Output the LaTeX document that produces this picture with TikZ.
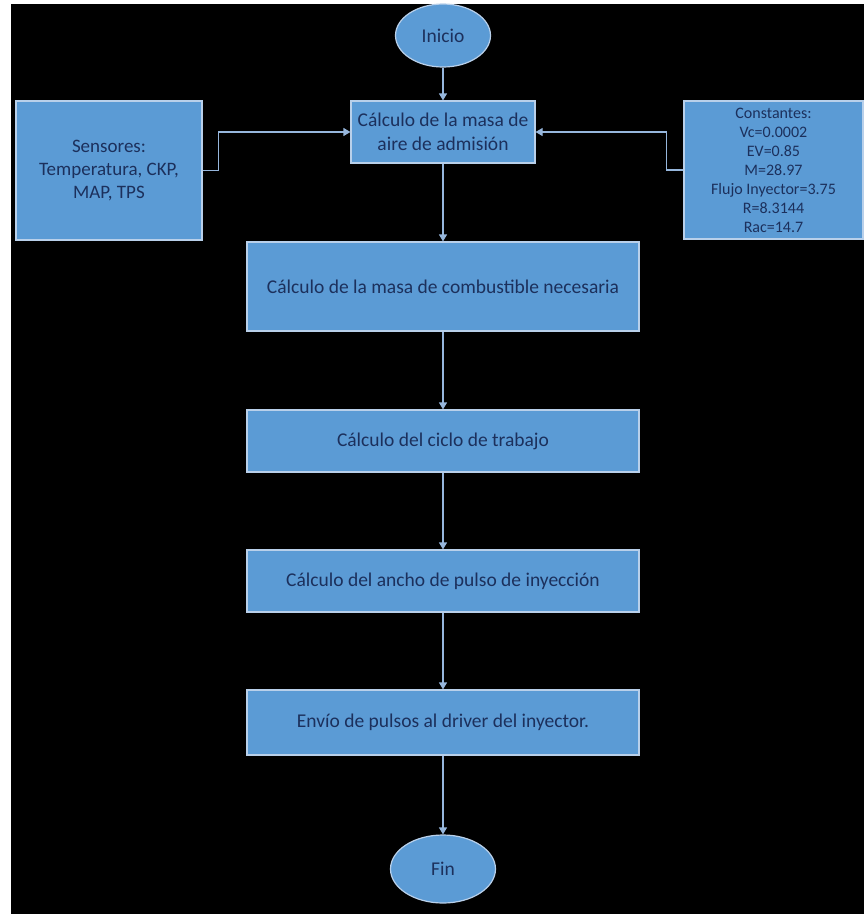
\documentclass[tikz,border=0pt]{standalone}
\usepackage{fontspec}
\setmainfont{Carlito}
\usetikzlibrary{shapes.geometric,arrows.meta}
\definecolor{cajaazul}{RGB}{91,155,213}
\definecolor{bordeazul}{RGB}{185,208,234}
\definecolor{textoazul}{RGB}{28,48,92}
\definecolor{lineaazul}{RGB}{150,182,220}

\begin{document}
\begin{tikzpicture}[x=1pt,y=-1pt,
    caja/.style={rectangle,draw=bordeazul,line width=1.2pt,fill=cajaazul,text=textoazul,
      align=center,inner sep=0pt,font=\fontsize{19.5}{24}\selectfont},
    terminal/.style={ellipse,draw=bordeazul,line width=1.2pt,fill=cajaazul,text=textoazul,
      inner sep=0pt,font=\fontsize{19.5}{24}\selectfont},
    flecha/.style={draw=lineaazul,line width=1.2pt,-{Triangle[width=8pt,length=7pt]}}]
    % fondo
    \useasboundingbox (0,0) rectangle (864,914);
    \fill[white] (0,0) rectangle (864,914);
    \fill[black] (11,4) rectangle (864,914);

    % inicio y fin
    \node[terminal,minimum width=95pt,minimum height=63pt] (inicio) at (443,35.5) {Inicio};
    \node[terminal,minimum width=105pt,minimum height=68pt] (fin) at (443,869) {Fin};

    % entradas
    \node[caja,minimum width=186pt,minimum height=139pt,font=\fontsize{19}{23}\selectfont]
      (sensores) at (109,170.5) {Sensores:\\Temperatura, CKP,\\MAP, TPS};
    \node[caja,minimum width=179pt,minimum height=138pt,font=\fontsize{16}{19}\selectfont]
      (constantes) at (773.5,170) {Constantes:\\Vc=0.0002\\EV=0.85\\M=28.97\\Flujo Inyector=3.75\\R=8.3144\\Rac=14.7};

    % pasos del calculo
    \node[caja,minimum width=184pt,minimum height=62pt] (aire) at (443,132) {Cálculo de la masa de\\aire de admisión};
    \node[caja,minimum width=392pt,minimum height=89pt] (combustible) at (443,286.5) {Cálculo de la masa de combustible necesaria};
    \node[caja,minimum width=392pt,minimum height=62pt] (ciclo) at (443,441) {Cálculo del ciclo de trabajo};
    \node[caja,minimum width=392pt,minimum height=62pt] (ancho) at (443,581) {Cálculo del ancho de pulso de inyección};
    \node[caja,minimum width=392pt,minimum height=65pt] (envio) at (443,722.5) {Envío de pulsos al driver del inyector.};

    % flechas
    \draw[flecha] (inicio) -- (aire);
    \draw[flecha] (aire) -- (combustible);
    \draw[flecha] (combustible) -- (ciclo);
    \draw[flecha] (ciclo) -- (ancho);
    \draw[flecha] (ancho) -- (envio);
    \draw[flecha] (envio) -- (fin);
    \draw[flecha] (sensores.east) -- ++(16,0) |- (aire.west);
    \draw[flecha] (constantes.west) -- ++(-17,0) |- (aire.east);
\end{tikzpicture}
\end{document}
